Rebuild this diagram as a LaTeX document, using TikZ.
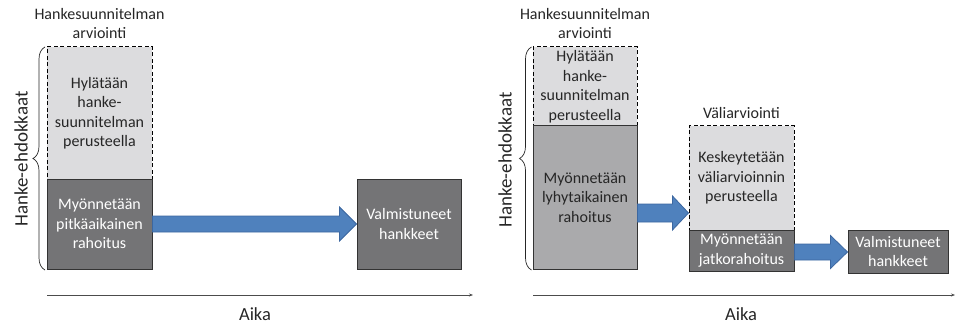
\documentclass[tikz,border=0pt]{standalone}
\usepackage{fontspec}
\setmainfont{Carlito}
\usetikzlibrary{positioning}
\usetikzlibrary{calc}
\usetikzlibrary{arrows.meta}
\usetikzlibrary{decorations.pathreplacing}
\definecolor{hell}{HTML}{DCDCDE}
\definecolor{mittel}{HTML}{AAAAAC}
\definecolor{dunkel}{HTML}{747476}
\definecolor{blau}{HTML}{4F81BD}
\definecolor{blaurand}{HTML}{3C67A0}
\definecolor{schrift}{HTML}{262626}

\begin{document}
\begin{tikzpicture}[x=1pt,y=-1pt,
    kasten/.style={draw, line width=1pt, minimum width=105pt, inner sep=0pt,
        align=center, font=\fontsize{16}{19.5}\selectfont},
    hylkays/.style={kasten, dash pattern=on 4pt off 2.5pt, fill=hell, text=schrift},
    rahoitus/.style={kasten, draw=black!80, fill=dunkel, text=white},
    lyhyt/.style={kasten, draw=black!80, fill=mittel, text=schrift},
    otsikko/.style={inner sep=0pt, align=center, text=schrift,
        font=\fontsize{16}{19.5}\selectfont},
    pfeil/.style={draw=blaurand, fill=blau, line width=.8pt, line join=miter},
    klammer/.style={draw=schrift, line width=.7pt,
        decorate, decoration={brace, amplitude=12pt}},
    akseli/.style={draw=black!70, line width=.8pt, -{Stealth[length=4pt, width=3pt]}},
]
    \useasboundingbox (0,0) rectangle (955,326);
    % Laatikot vasen
    \node[hylkays, minimum height=132pt] (hyl1) at (99.5,113)
        {Hylätään\\hanke-\\suunnitelman\\perusteella};
    \node[rahoitus, minimum height=90pt] (pitka) at (99.5,224)
        {Myönnetään\\pitkäaikainen\\rahoitus};
    \node[rahoitus, minimum width=104pt, minimum height=90pt] (valm1) at (409,224)
        {Valmistuneet\\hankkeet};
    % Laatikot oikea
    \node[hylkays, minimum width=104pt, minimum height=79pt] (hyl2) at (585,86.5)
        {Hylätään\\hanke-\\suunnitelman\\perusteella};
    \node[lyhyt, minimum width=104pt, minimum height=143pt] (lyhyt) at (585,197.5)
        {Myönnetään\\lyhytaikainen\\rahoitus};
    \node[hylkays, minimum height=104pt] (kesk) at (741.5,178)
        {Keskeytetään\\väliarvioinnin\\perusteella};
    \node[rahoitus, minimum height=41pt] (jatko) at (741.5,250.5)
        {Myönnetään\\jatkorahoitus};
    \node[rahoitus, minimum width=100pt, minimum height=43pt] (valm2) at (898,251.5)
        {Valmistuneet\\hankkeet};
    % Otsikot
    \node[otsikko, above=7.5pt of hyl1] (arv1) {Hankesuunnitelman\\arviointi};
    \node[otsikko, above=7.5pt of hyl2] (arv2) {Hankesuunnitelman\\arviointi};
    \node[otsikko, above=7pt of kesk] (vali) {Väliarviointi};
    % Nuolet
    \coordinate (p1) at (pitka.east);
    \coordinate (q1) at (p1 -| valm1.west);
    \draw[pfeil]
    ($(p1)+(0,-8)$) -- ($(q1)+(-17,-8)$) -- ($(q1)+(-17,-17)$) -- (q1)
    -- ($(q1)+(-17,17)$) -- ($(q1)+(-17,8)$) -- ($(p1)+(0,8)$) -- cycle;
    \coordinate (p2) at ($(lyhyt.east)+(0,15.5)$);
    \coordinate (q2) at (p2 -| kesk.west);
    \draw[pfeil]
    ($(p2)+(0,-9)$) -- ($(q2)+(-16,-9)$) -- ($(q2)+(-16,-17)$) -- (q2)
    -- ($(q2)+(-16,17)$) -- ($(q2)+(-16,9)$) -- ($(p2)+(0,9)$) -- cycle;
    \coordinate (p3) at ($(jatko.east)+(0,1.5)$);
    \coordinate (q3) at (p3 -| valm2.west);
    \draw[pfeil]
    ($(p3)+(0,-8)$) -- ($(q3)+(-17,-8)$) -- ($(q3)+(-17,-16.5)$) -- (q3)
    -- ($(q3)+(-17,16.5)$) -- ($(q3)+(-17,8)$) -- ($(p3)+(0,8)$) -- cycle;
    % Aaltosulkeet ja Hanke-ehdokkaat
    \draw[klammer] (45,270) -- (45,47);
    \draw[klammer] (531.5,270) -- (531.5,47);
    \node[rotate=90, text=schrift, font=\fontsize{19}{22}\selectfont] (ehd1) at (21,159) {Hanke-ehdokkaat};
    \node[rotate=90, text=schrift, font=\fontsize{19}{22}\selectfont] (ehd2) at (505,160) {Hanke-ehdokkaat};
    % Aika-akselit
    \coordinate (a1) at (47,295);
    \coordinate (b1) at (473,295);
    \coordinate (a2) at (533,295);
    \coordinate (b2) at (955,295);
    \draw[akseli] (a1) -- (b1);
    \draw[akseli] (a2) -- (b2);
    \node[text=schrift, font=\fontsize{18.5}{22}\selectfont] (aika1) at (255,314) {Aika};
    \node[text=schrift, font=\fontsize{18.5}{22}\selectfont] (aika2) at (741,314) {Aika};
\end{tikzpicture}
\end{document}
